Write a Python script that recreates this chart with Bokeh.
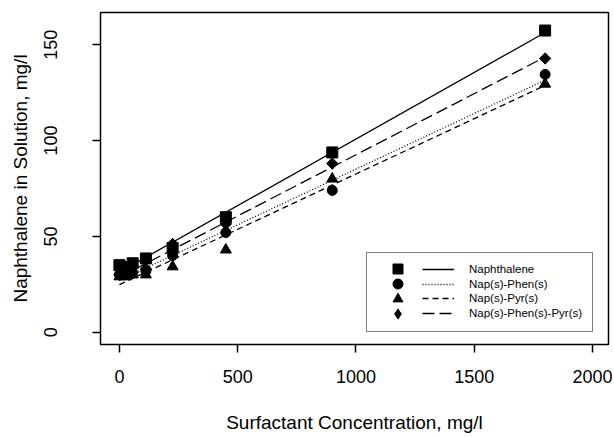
import numpy as np
from bokeh.plotting import figure
from bokeh.models import Legend, LegendItem, FixedTicker, Range1d
from bokeh.embed import file_html
from bokeh.resources import INLINE

# ---- data ----
conc = [0, 28, 56, 112, 225, 450, 900, 1800]
naphthalene = [35, 34, 36, 38.5, 44, 60, 93.8, 157.4]
nap_phen = [30, 30, 31, 32, 40, 52, 74, 134.5]
nap_pyr = [29, 29, 30, 30, 34.2, 43, 80, 129.5]
nap_phen_pyr = [30, 30.5, 31, 33, 46, 56.5, 88, 142.8]
series_names = ["Naphthalene", "Nap(s)-Phen(s)", "Nap(s)-Pyr(s)", "Nap(s)-Phen(s)-Pyr(s)"]
x_ticks = [0, 500, 1000, 1500, 2000]
y_ticks = [0, 50, 100, 150]

FONT = "Liberation Sans"

W, H = 612, 435
B_LEFT, B_TOP, B_RIGHT, B_BOTTOM = 100, 12, 4, 91

p = figure(width=W, height=H, output_backend="svg", toolbar_location=None,
           x_range=Range1d(-80, 2068), y_range=Range1d(-6.4, 166.8),
           min_border_left=B_LEFT, min_border_right=B_RIGHT,
           min_border_top=B_TOP, min_border_bottom=B_BOTTOM,
           x_axis_label="Surfactant Concentration, mg/l",
           y_axis_label="Naphthalene in Solution, mg/l")
p.grid.visible = False
p.outline_line_color = "black"
p.outline_line_width = 1.5
p.background_fill_color = "white"
p.border_fill_color = "white"

for ax in (p.xaxis, p.yaxis):
    ax.axis_line_color = None
    ax.major_tick_line_color = "black"
    ax.major_tick_line_width = 1.5
    ax.major_tick_out = 8
    ax.major_tick_in = 0
    ax.minor_tick_line_color = None
    ax.major_label_text_font = FONT
    ax.major_label_text_font_size = "18px"
    ax.major_label_text_color = "black"
    ax.axis_label_text_font = FONT
    ax.axis_label_text_font_size = "19px"
    ax.axis_label_text_font_style = "normal"
    ax.axis_label_text_color = "black"

p.xaxis.ticker = FixedTicker(ticks=x_ticks)
p.yaxis.ticker = FixedTicker(ticks=y_ticks)
p.xaxis.major_label_standoff = 17
p.xaxis.axis_label_standoff = 26
p.yaxis.major_label_orientation = "vertical"
p.yaxis.major_label_standoff = 35
p.yaxis.axis_label_standoff = 11

series = [naphthalene, nap_phen, nap_pyr, nap_phen_pyr]
markers = ["square", "circle", "triangle", "square"]
angles = [0, 0, 0, np.pi / 4]
sizes = [11, 10, 11, 8]
legend_markers = ["square", "circle", "triangle", "diamond"]
dashes = ["solid", "1 2", "6 4", "12 5"]

x_arr = np.array(conc, dtype=float)
x_line = np.array([x_arr.min(), x_arr.max()])

renderers = []
for ys, mk, ang, sz, lmk, dash in zip(series, markers, angles, sizes, legend_markers, dashes):
    slope, intercept = np.polyfit(x_arr, np.array(ys, dtype=float), 1)
    lr = p.line(x_line, intercept + slope * x_line, line_color="black",
                line_width=1.3, line_dash=dash)
    proxy = None
    if lmk != mk:
        # diamond glyph hidden under the rotated squares; used for the legend key
        proxy = p.scatter(conc, ys, marker=lmk, size=11,
                          fill_color="black", line_color="black")
    mr = p.scatter(conc, ys, marker=mk, size=sz, angle=ang,
                   fill_color="black", line_color="black")
    renderers.append((proxy if proxy is not None else mr, lr))

# ---- legend (layout in pixels, page coordinates) ----
frame_left = B_LEFT
frame_bottom = H - B_BOTTOM
box_l, box_r, box_t, box_b = 366, 591, 254, 332
row0, row_step = 268.8, 14.8
marker_cx, line_x0, line_len, text_gap = 397, 422, 32, 15
font_kw = dict(label_text_font=FONT, label_text_font_size="11.5px", label_text_color="black")

dummy = p.line(x=[], y=[], line_alpha=0)
box = Legend(items=[LegendItem(label=" ", renderers=[dummy])],
             location=(box_l - frame_left, frame_bottom - box_b),
             padding=0, spacing=0, glyph_width=box_r - box_l, glyph_height=box_b - box_t,
             label_standoff=0, label_width=0, label_height=0,
             border_line_color="black", border_line_width=1.5,
             background_fill_color="white", background_fill_alpha=1.0, **font_kw)
p.add_layout(box, "center")

legend_marker_box = [25, 25, 25, 25]
for i, (name, (mr, lr)) in enumerate(zip(series_names, renderers)):
    cy = row0 + i * row_step
    gm = legend_marker_box[i]
    lm = Legend(items=[LegendItem(label=" ", renderers=[mr])],
                location=(marker_cx - gm / 2 - frame_left, frame_bottom - (cy + gm / 2)),
                padding=0, spacing=0, glyph_width=gm, glyph_height=gm,
                label_standoff=0, label_width=0, label_height=0,
                border_line_color=None, background_fill_alpha=0.0, **font_kw)
    gl = 14
    ll = Legend(items=[LegendItem(label=name, renderers=[lr])],
                location=(line_x0 - frame_left, frame_bottom - (cy + gl / 2)),
                padding=0, spacing=0, glyph_width=line_len, glyph_height=gl,
                label_standoff=text_gap, label_width=0, label_height=gl,
                border_line_color=None, background_fill_alpha=0.0, **font_kw)
    p.add_layout(lm, "center")
    p.add_layout(ll, "center")

open("out.html", "w").write(file_html(p, INLINE))
